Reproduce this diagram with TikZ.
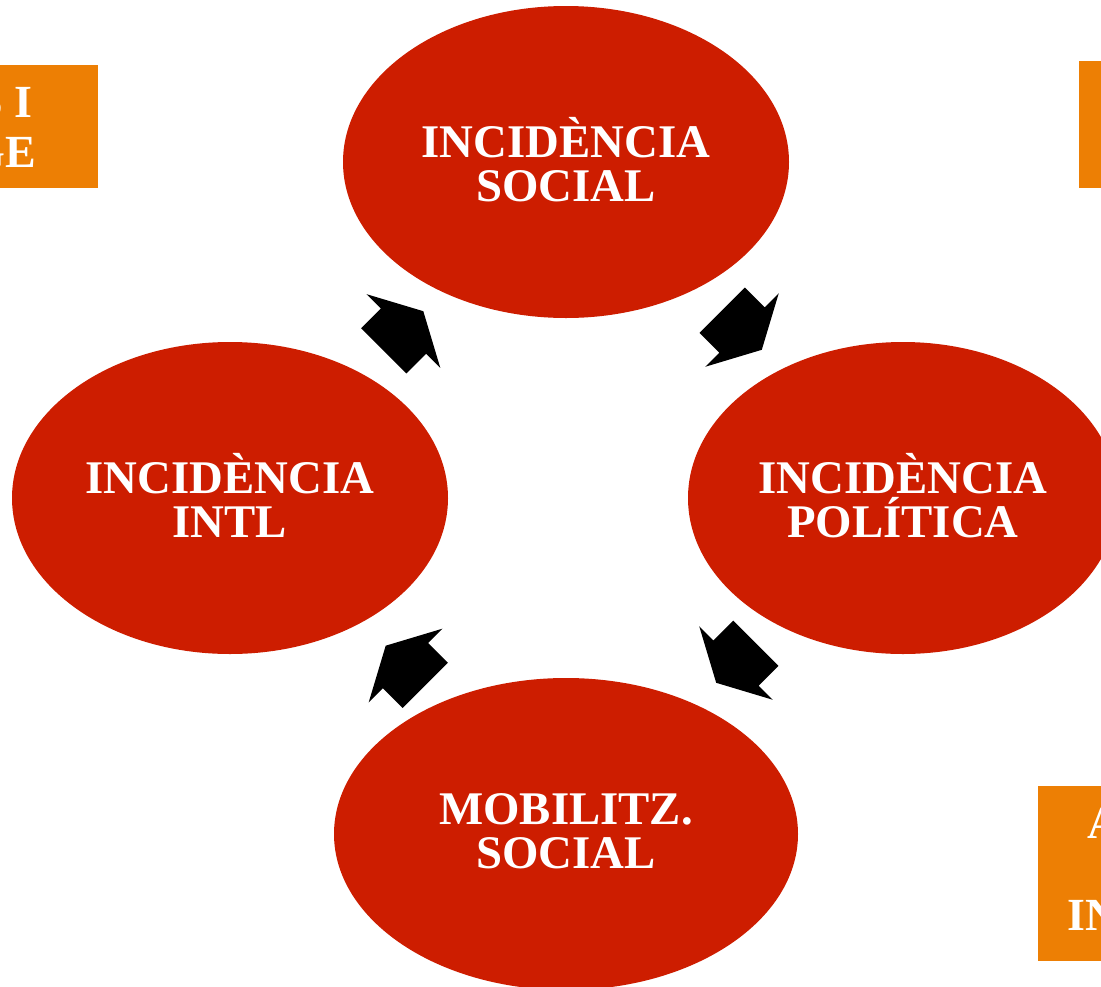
\documentclass[tikz,border=0pt]{standalone}
\usepackage{fontspec}
\setmainfont{Liberation Serif}
\usetikzlibrary{shapes.geometric}
\definecolor{cyclered}{RGB}{205,29,0}
\definecolor{sideorange}{RGB}{237,127,4}
\tikzset{
  stage/.style={ellipse, fill=cyclered, inner sep=0pt, minimum height=312pt, text=white, align=center,
    text depth=6pt, font=\bfseries\fontsize{46.8}{44}\selectfont},
  sidebox/.style={rectangle, fill=sideorange, inner sep=0pt},
  sidetext/.style={text=white, inner sep=0pt, font=\bfseries\fontsize{46}{46}\selectfont},
  cyclearrow/.style={fill=black},
}
\newcommand\cyclearrowshape[3]{%
  \begin{scope}[shift={(#1,#2)}, rotate=#3]
    \fill[cyclearrow] (28,0) -- (0,52) -- (0,32) -- (-28,32) -- (-28,-32) -- (0,-32) -- (0,-52) -- cycle;
  \end{scope}}
\begin{document}
\begin{tikzpicture}[x=1pt,y=-1pt]
\useasboundingbox (0,0) rectangle (1101,986);
\clip (0,0) rectangle (1101,986);
\fill[white] (0,0) rectangle (1101,986);
% side boxes (partly outside the page)
\node[sidebox, minimum width=200pt, minimum height=123pt] (boxtl) at (-2,126.5) {};
\node[sidetext, anchor=base east] (boxtlA) at (33,117) {S I};
\node[sidetext, anchor=base east] (boxtlB) at (36,167) {GE};
\node[sidebox, minimum width=200pt, minimum height=127pt] (boxtr) at (1179,124.5) {};
\node[sidebox, minimum width=200pt, minimum height=175pt] (boxbr) at (1138,873.5) {};
\node[sidetext, anchor=base west] (boxbrA) at (1087,838) {A};
\node[sidetext, anchor=base west] (boxbrB) at (1067,930) {IN};
% cycle stages
\node[stage, minimum width=446pt] (social) at (566,162) {INCIDÈNCIA\\SOCIAL};
\node[stage, minimum width=430pt] (politica) at (903,498) {INCIDÈNCIA\\POLÍTICA};
\node[stage, minimum width=464pt] (mobil) at (566,834) {MOBILITZ.\\SOCIAL};
\node[stage, minimum width=436pt] (intl) at (230,498) {INCIDÈNCIA\\INTL};
% cycle arrows
\cyclearrowshape{742}{330}{-45}
\cyclearrowshape{736}{663}{-135}
\cyclearrowshape{405.5}{665.5}{135}
\cyclearrowshape{403.5}{331}{45}
\end{tikzpicture}
\end{document}
